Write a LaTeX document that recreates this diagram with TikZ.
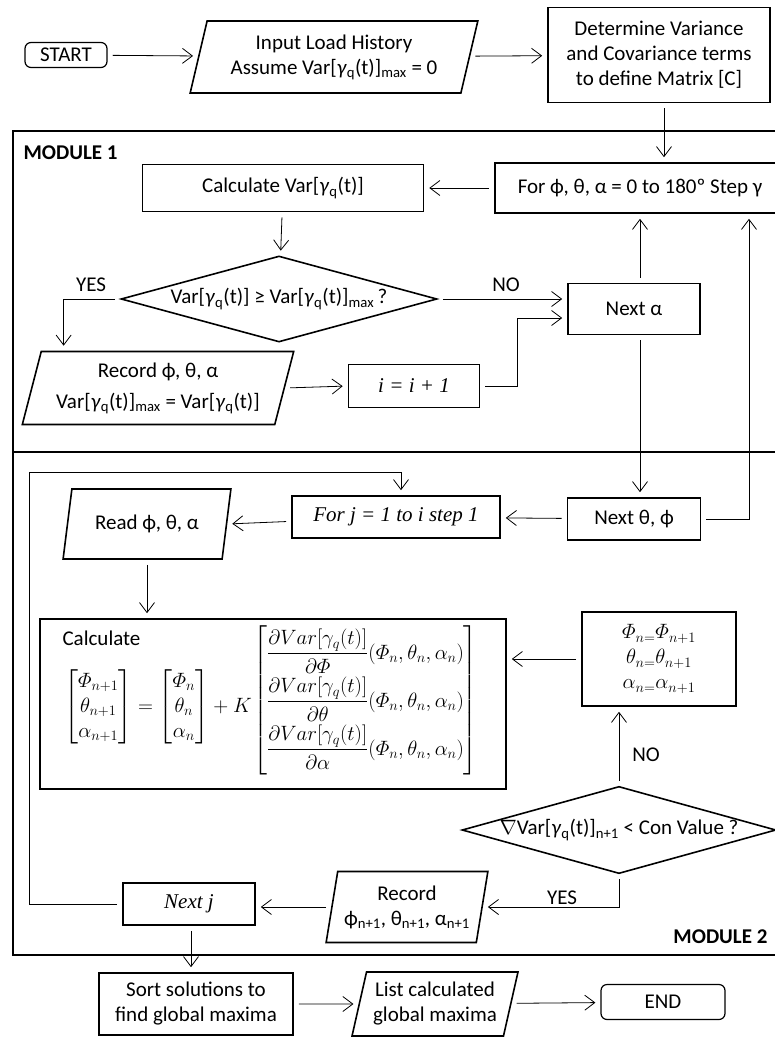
\documentclass[tikz,border=0pt]{standalone}
\usepackage{amsmath}
\usepackage{fontspec}
\setmainfont{Carlito}
\newfontfamily\serifit{Liberation Serif}
\usetikzlibrary{positioning,arrows.meta,shapes.geometric,calc}
\newcommand{\rowstrut}{\rule[-17pt]{0pt}{48pt}}

\begin{document}
\begin{tikzpicture}[x=1pt, y=-1pt,
    every node/.style={font=\fontsize{21}{25}\selectfont},
    procbox/.style={draw, line width=1.6pt, minimum height=43pt, align=center},
    termbox/.style={draw, rounded corners=6pt, line width=1.2pt, inner sep=2pt},
    iobox/.style={draw, line width=1.6pt, trapezium, trapezium left angle=74, trapezium right angle=106, trapezium stretches=true, align=center, inner sep=2pt},
    decbox/.style={draw, line width=1.6pt, diamond, inner sep=0pt},
    modframe/.style={draw, line width=2.2pt},
    modlabel/.style={font=\fontsize{21}{25}\selectfont\bfseries},
    arr/.style={-{Straight Barb[length=10pt,width=15pt]}, line width=0.8pt, shorten <=5pt, shorten >=5pt}]
    \useasboundingbox (0,0) rectangle (774,1038);
    % module frames
    \draw[modframe] (13,131) rectangle (780,452);
    \draw[modframe] (13,452) rectangle (780,955);
    \node[modlabel, anchor=west] (mod1) at (20,153) {MODULE 1};
    \node[modlabel, anchor=east] (mod2) at (771,937) {MODULE 2};
    % top row
    \node[termbox, minimum width=82pt, minimum height=25pt] (start) at (66,55) {START};
    \node[iobox, minimum width=288pt, minimum height=72pt] (input) at (334,57) {Input Load History\\Assume Var[\textit{γ}\textsubscript{q}(t)]\textsubscript{max} = 0};
    \node[procbox, minimum width=222pt, minimum height=95pt] (determ) at (659,55) {Determine Variance\\and Covariance terms\\to define Matrix [C]};
    % module 1
    \node[procbox, minimum width=281pt, minimum height=47pt] (calcvar) at (283,188) {Calculate Var[\textit{γ}\textsubscript{q}(t)]};
    \node[procbox, minimum width=290pt, minimum height=50pt] (forloop) at (640,188) {For ϕ, θ, α = 0 to 180º Step γ};
    \node[decbox, aspect=3.67, minimum width=316pt, minimum height=86pt] (dec1) at (279,299) {Var[\textit{γ}\textsubscript{q}(t)] ≥ Var[\textit{γ}\textsubscript{q}(t)]\textsubscript{max}\,?};
    \node (yes1) at (91,285) {YES};
    \node (no1) at (506,285) {NO};
    \node[procbox, minimum width=132pt, minimum height=51pt] (nexta) at (634,309) {Next α};
    \node[iobox, trapezium left angle=73, trapezium right angle=107, minimum width=272pt, minimum height=73pt] (rec1) at (158,388) {Record ϕ, θ, α\\[6pt]Var[\textit{γ}\textsubscript{q}(t)]\textsubscript{max} = Var[\textit{γ}\textsubscript{q}(t)]};
    \node[procbox, minimum width=131pt] (ibox) at (414,386) {\serifit\itshape i = i + 1};
    % module 2
    \node[procbox, minimum width=133pt, minimum height=42pt] (nexttp) at (634,519) {Next θ, ϕ};
    \node[procbox, minimum width=208pt, minimum height=42pt] (forj) at (396,517) {\serifit\itshape For j = 1 to i step 1};
    \node[iobox, minimum width=168pt, minimum height=70pt] (read) at (147,524) {Read ϕ, θ, α};
    \node[procbox, minimum width=466pt, minimum height=170pt] (calc) at (273,704) {};
    \node[anchor=west] (calclbl) at (59,638) {Calculate};
    \node[inner sep=0pt, anchor=west] (gradl) at (64,707) {$\displaystyle
      \begin{bmatrix}\varPhi_{n+1}\\ \theta_{n+1}\\ \alpha_{n+1}\end{bmatrix}
      =\begin{bmatrix}\varPhi_{n}\\ \theta_{n}\\ \alpha_{n}\end{bmatrix}+K$};
    \node[inner sep=0pt, anchor=east] (gradr) at (478,700) {$\displaystyle
      \begin{bmatrix}
        \rowstrut\dfrac{\partial Var[\gamma_q(t)]}{\partial\varPhi}(\varPhi_n,\theta_n,\alpha_n)\\
        \rowstrut\dfrac{\partial Var[\gamma_q(t)]}{\partial\theta}(\varPhi_n,\theta_n,\alpha_n)\\
        \rowstrut\dfrac{\partial Var[\gamma_q(t)]}{\partial\alpha}(\varPhi_n,\theta_n,\alpha_n)
      \end{bmatrix}$};
    \node[procbox, minimum width=154pt, minimum height=94pt] (update) at (659,659) {$\varPhi_{n=}\varPhi_{n+1}$\\$\theta_{n=}\theta_{n+1}$\\$\alpha_{n=}\alpha_{n+1}$};
    \node[decbox, aspect=3.6, minimum width=308pt, minimum height=85pt] (dec2) at (619,830) {$\nabla$Var[\textit{γ}\textsubscript{q}(t)]\textsubscript{n+1} < Con Value ?};
    \node (no2) at (646,755) {NO};
    \node (yes2) at (562,898) {YES};
    \node[iobox, trapezium left angle=77, trapezium right angle=103, minimum width=162pt, minimum height=71pt] (rec2) at (407,907) {Record\\ϕ\textsubscript{n+1}, θ\textsubscript{n+1}, α\textsubscript{n+1}};
    \node[procbox, minimum width=132pt, minimum height=42pt] (nextj) at (189,904) {\serifit\itshape Next j};
    % bottom row
    \node[procbox, minimum width=194pt, minimum height=62pt] (sort) at (196,1004) {Sort solutions to\\find global maxima};
    \node[iobox, minimum width=166pt, minimum height=64pt] (list) at (435,1004) {List calculated\\global maxima};
    \node[termbox, minimum width=124pt, minimum height=35pt] (end) at (663,1002) {END};
    \coordinate (loopc) at (29,472);
    % connectors
    \draw[arr] (start) -- (input);
    \draw[arr] (input) -- (determ);
    \draw[arr] ([xshift=5pt]determ.south) -- ([xshift=5pt]determ.south |- forloop.north);
    \draw[arr] (forloop.west) -- (calcvar.east);
    \draw[arr] (calcvar) -- (dec1);
    \draw[arr] (dec1.west) -| ([xshift=23pt]rec1.top left corner);
    \draw[arr] (dec1.east) -- (dec1.east -| nexta.west);
    \draw[arr] (rec1.east) -- (ibox.west);
    \draw[arr] (ibox.east) -- ++(37,0) |- ([yshift=-9pt]nexta.west);
    \draw[arr] ([xshift=6pt]nexta.north) -- ([xshift=6pt]nexta.north |- forloop.south);
    \draw[arr] ([xshift=6pt]nexta.south) -- ([xshift=6pt]nexta.south |- nexttp.north);
    \draw[arr] (nexttp.east) -| ([xshift=109pt]forloop.south);
    \draw[arr] (nexttp) -- (forj);
    \draw[arr] (forj) -- (read.east);
    \draw[arr] (read.south) -- (read.south |- calc.north);
    \draw[arr] (update.west) -- (update.west -| calc.east);
    \draw[arr] (dec2.north) -- (dec2.north |- update.south);
    \draw[arr] (dec2.south) |- (rec2.east);
    \draw[arr] (rec2.west) -- (rec2.west -| nextj.east);
    \draw[arr] (nextj.west) -| (loopc) -| ([xshift=5pt]forj.north);
    \draw[arr] ([xshift=2pt]nextj.south) -- ([xshift=2pt]nextj.south |- sort.north);
    \draw[arr] (sort) -- (list);
    \draw[arr] (list) -- (end);
\end{tikzpicture}
\end{document}
